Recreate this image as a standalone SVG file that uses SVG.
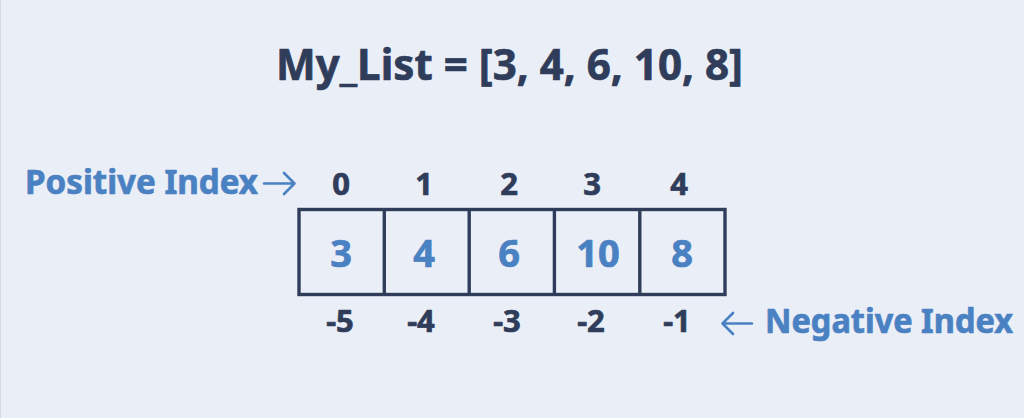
<svg xmlns="http://www.w3.org/2000/svg" width="1024" height="418" viewBox="0 0 1024 418">
<style>
.t{font-family:"Noto Sans","Open Sans","Liberation Sans",sans-serif;font-weight:700;stroke-width:0.7;stroke-linejoin:round}
.dark{fill:#2f3d5b;stroke:#2f3d5b}
.blue{fill:#4a81c2;stroke:#4a81c2}
.idx{font-size:31px;text-anchor:middle}
.val{font-size:38px;text-anchor:middle}
.cell{fill:none;stroke:#2f3d5b;stroke-width:3.4}
.arrow{fill:none;stroke:#4a81c2;stroke-width:2.6;stroke-linecap:round;stroke-linejoin:round}
</style>
<rect x="0" y="0" width="1024" height="418" fill="#eaeef6"/>
<line x1="0.5" y1="0" x2="0.5" y2="418" stroke="#d6dae3" stroke-width="1"/>
<g id="title">
<text class="t dark" x="276" y="80" font-size="43" textLength="467" lengthAdjust="spacingAndGlyphs">My_List = [3, 4, 6, 10, 8]</text>
</g>
<g id="positive-label">
<text class="t blue" x="25" y="194" font-size="34" textLength="233" lengthAdjust="spacingAndGlyphs">Positive Index</text>
</g>
<g id="negative-label">
<text class="t blue" x="765" y="333" font-size="34" textLength="248" lengthAdjust="spacingAndGlyphs">Negative Index</text>
</g>
<g id="connectors">
<path class="arrow" d="M264 183.5 H294.5 M284 173 L294.5 183.5 L284 194"/>
<path class="arrow" d="M752 323.5 H722.5 M733 313 L722.5 323.5 L733 334"/>
</g>
<g id="list">
<rect class="cell" x="299" y="209.5" width="426" height="85"/>
<line class="cell" x1="384.3" y1="209.5" x2="384.3" y2="294.5"/>
<line class="cell" x1="469.2" y1="209.5" x2="469.2" y2="294.5"/>
<line class="cell" x1="554.4" y1="209.5" x2="554.4" y2="294.5"/>
<line class="cell" x1="639.8" y1="209.5" x2="639.8" y2="294.5"/>
</g>
<g id="cell0"><text class="t dark idx" x="341" y="195">0</text><text class="t blue val" x="341" y="267">3</text><text class="t dark idx" x="340" y="332">-5</text></g>
<g id="cell1"><text class="t dark idx" x="424" y="195">1</text><text class="t blue val" x="424" y="267">4</text><text class="t dark idx" x="421" y="332">-4</text></g>
<g id="cell2"><text class="t dark idx" x="509" y="195">2</text><text class="t blue val" x="509" y="267">6</text><text class="t dark idx" x="507" y="332">-3</text></g>
<g id="cell3"><text class="t dark idx" x="592" y="195">3</text><text class="t blue val" x="598" y="267">10</text><text class="t dark idx" x="591" y="332">-2</text></g>
<g id="cell4"><text class="t dark idx" x="679" y="195">4</text><text class="t blue val" x="682" y="267">8</text><text class="t dark idx" x="677" y="332">-1</text></g>
</svg>
